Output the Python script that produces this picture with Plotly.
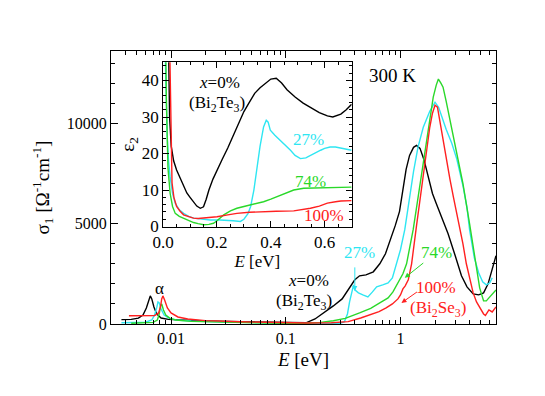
import numpy as np
import plotly.graph_objects as go

# ---- main panel: sigma_1 (Ohm^-1 cm^-1) vs photon energy E (eV) ----
e_bi2te3 = [0.0037, 0.0045, 0.0052, 0.0057, 0.0061, 0.0064, 0.0066, 0.0068, 0.0071, 0.0075,
            0.0082, 0.0095, 0.012, 0.02, 0.04, 0.08, 0.15, 0.18, 0.22, 0.26, 0.31, 0.35, 0.40,
            0.44, 0.50, 0.58, 0.66, 0.74, 0.81, 0.90, 0.98, 1.05, 1.12, 1.20, 1.30, 1.38, 1.48,
            1.60, 1.75, 1.90, 2.05, 2.3, 2.6, 3.0, 3.4, 3.8, 4.3, 4.8, 5.3, 5.8, 6.3, 6.8]
s_bi2te3 = [220, 230, 290, 450, 800, 1200, 1400, 1250, 850, 500,
            300, 230, 200, 150, 110, 70, 60, 250, 600, 900, 1250, 1700, 2200,
            2400, 2450, 2600, 3000, 3500, 4100, 4900, 5600, 6600, 7700, 8400, 8800, 8900, 8750,
            8200, 7300, 6500, 6000, 5300, 4500, 3400, 2400, 1850, 1500, 1450, 1550, 2000, 2800, 3400]

e_27 = [0.0037, 0.005, 0.006, 0.0068, 0.0072, 0.0075, 0.0077, 0.0079, 0.0082, 0.0087,
        0.0095, 0.011, 0.015, 0.03, 0.06, 0.1, 0.2, 0.3, 0.325, 0.345, 0.36, 0.375, 0.39,
        0.40, 0.43, 0.47, 0.52, 0.57, 0.62, 0.70, 0.78, 0.85, 0.92, 1.0, 1.09, 1.2, 1.3,
        1.42, 1.58, 1.8, 2.0, 2.15, 2.3, 2.5, 2.8, 3.1, 3.5, 3.8, 4.0, 4.4, 4.8, 5.2, 5.6,
        6.0, 6.3]
s_27 = [60, 70, 90, 200, 450, 800, 1100, 1050, 750, 450,
        300, 200, 150, 100, 60, 40, 30, 40, 120, 500, 1100, 1550, 1950,
        1700, 1550, 1450, 1350, 1600, 1850, 1950, 2050, 2300, 3000, 3700, 4700, 6300, 7600,
        8800, 9800, 10600, 11050, 10800, 10300, 9700, 9000, 8200, 6900, 5800, 4700, 3300, 2550, 2100, 1950,
        2050, 2300]

e_74 = [0.0045, 0.006, 0.007, 0.0076, 0.0079, 0.0081, 0.0083, 0.0086, 0.009, 0.0098,
        0.011, 0.015, 0.03, 0.06, 0.1, 0.15, 0.2, 0.26, 0.33, 0.44, 0.55, 0.66, 0.78,
        0.86, 0.92, 0.98, 1.05, 1.13, 1.21, 1.29, 1.38, 1.48, 1.58, 1.69, 1.8, 1.93, 2.05,
        2.14, 2.25, 2.35, 2.5, 2.69, 2.9, 3.1, 3.5, 4.0, 4.3, 4.6, 4.9, 5.3, 5.6, 5.9, 6.3, 6.8]
s_74 = [40, 50, 80, 200, 500, 900, 1000, 700, 450, 280,
        200, 130, 80, 50, 30, 40, 80, 160, 280, 550, 780, 1050, 1300,
        1600, 1900, 2200, 2500, 3000, 3800, 4700, 5800, 7000, 8100, 9200, 10200, 11300, 11900,
        12200, 12000, 11800, 11100, 10200, 9300, 8500, 7000, 5000, 3800, 2700, 1800, 1150, 1150, 1300, 1500, 1700]

e_bi2se3 = [0.0043, 0.006, 0.0072, 0.0078, 0.0081, 0.0083, 0.0085, 0.0088, 0.0093, 0.01,
            0.0115, 0.014, 0.02, 0.04, 0.08, 0.15, 0.25, 0.35, 0.45, 0.54, 0.65, 0.75, 0.85,
            0.95, 1.0, 1.05, 1.1, 1.17, 1.25, 1.38, 1.48, 1.58, 1.7, 1.8, 1.9, 2.0, 2.1, 2.2,
            2.35, 2.5, 2.7, 2.9, 3.1, 3.3, 3.5, 3.75, 4.0, 4.3, 4.6, 5.0, 5.3, 5.5, 5.9, 6.3, 6.8]
s_bi2se3 = [410, 400, 420, 550, 850, 1250, 1400, 1200, 800, 550,
            350, 250, 170, 110, 70, 50, 60, 120, 300, 460, 620, 800, 1000,
            1250, 1450, 1750, 1900, 2200, 3000, 4900, 6200, 7500, 8800, 9800, 10500, 10900, 10800, 10100,
            9100, 8200, 7200, 6300, 5500, 4700, 4000, 3000, 2300, 1550, 1100, 700, 500, 430, 700, 600, 850]

# ---- inset: epsilon_2 vs E (eV) ----
ei_bi2te3 = [0.018, 0.024, 0.03, 0.039, 0.05, 0.063, 0.075, 0.088, 0.1, 0.113, 0.125, 0.138,
             0.15, 0.16, 0.17, 0.185, 0.2, 0.22, 0.24, 0.26, 0.28, 0.30, 0.32, 0.34, 0.36,
             0.38, 0.40, 0.42, 0.44, 0.46, 0.49, 0.52, 0.55, 0.58, 0.61, 0.63, 0.66, 0.68, 0.70]
eps_bi2te3 = [60, 30, 22, 18, 15.5, 13.5, 11.5, 9.2, 8, 6.6, 5.6, 5.0,
              5.4, 7.5, 10, 13, 15.5, 18.5, 21.5, 25, 28, 31.5, 34, 36.5, 38,
              39.3, 40.4, 40.6, 39.3, 37.5, 35.5, 33.8, 32.5, 31.2, 30.3, 30.0, 30.8, 32.0, 33.5]

ei_27 = [0.005, 0.007, 0.015, 0.02, 0.026, 0.035, 0.045, 0.06, 0.076, 0.095, 0.113, 0.14,
         0.175, 0.21, 0.237, 0.26, 0.287, 0.30, 0.315, 0.325, 0.337, 0.349, 0.36, 0.373,
         0.383, 0.39, 0.398, 0.415, 0.436, 0.455, 0.473, 0.49, 0.51, 0.53, 0.547, 0.565,
         0.585, 0.60, 0.62, 0.64, 0.66, 0.68, 0.70]
eps_27 = [60, 50, 25, 18, 13.6, 9, 6.4, 4.6, 3.6, 2.8, 2.3, 2.0,
          1.8, 1.8, 1.8, 1.6, 1.4, 2.0, 3.5, 5.5, 10, 16.4, 22, 27.3,
          29.1, 28.6, 26.4, 25, 23.6, 22.2, 20.9, 19.5, 18.6, 18.8, 19.5, 20.3,
          20.9, 21.4, 21.8, 21.8, 21.5, 21.2, 20.9]

ei_74 = [0.008, 0.012, 0.018, 0.026, 0.035, 0.045, 0.06, 0.076, 0.095, 0.113, 0.13, 0.15,
         0.17, 0.187, 0.2, 0.212, 0.225, 0.25, 0.274, 0.30, 0.324, 0.35, 0.373, 0.40,
         0.436, 0.46, 0.485, 0.522, 0.56, 0.61, 0.65, 0.70]
eps_74 = [60, 35, 16, 9.1, 5.5, 3.6, 2.8, 2.3, 1.6, 1.1, 0.8, 0.5,
          0.6, 0.9, 1.6, 2.4, 3.2, 4.3, 5.0, 5.5, 5.9, 6.4, 6.8, 7.5,
          8.6, 9.4, 10.0, 10.5, 10.6, 10.6, 10.7, 10.8]

ei_bi2se3 = [0.022, 0.028, 0.033, 0.04, 0.05, 0.063, 0.076, 0.095, 0.113, 0.13, 0.15, 0.175,
             0.2, 0.24, 0.274, 0.32, 0.373, 0.42, 0.485, 0.52, 0.547, 0.58, 0.61, 0.64, 0.66, 0.70]
eps_bi2se3 = [60, 25, 12, 8, 5.5, 4.2, 3.2, 2.7, 2.3, 2.2, 2.3, 2.5,
              2.7, 3.2, 3.6, 3.9, 4.1, 4.2, 4.3, 4.6, 5.0, 5.6, 6.4, 6.8, 7.0, 7.1]

BLACK, CYAN, GREEN, RED = "black", "#2ee6f2", "#2ad82a", "#ff2020"
SERIF = "Liberation Serif"

fig = go.Figure()

main = [(e_bi2te3, s_bi2te3, BLACK), (e_27, s_27, CYAN),
        (e_74, s_74, GREEN), (e_bi2se3, s_bi2se3, RED)]
for E, s, c in main:
    fig.add_trace(go.Scatter(x=E, y=s, mode="lines", line=dict(color=c, width=1.4),
                             xaxis="x", yaxis="y", showlegend=False))

inset = [(ei_bi2te3, eps_bi2te3, BLACK), (ei_27, eps_27, CYAN),
         (ei_74, eps_74, GREEN), (ei_bi2se3, eps_bi2se3, RED)]
for E, eps, c in inset:
    fig.add_trace(go.Scatter(x=E, y=eps, mode="lines", line=dict(color=c, width=1.4),
                             xaxis="x2", yaxis="y2", showlegend=False))

minor_log = [m * 10.0**k for k in range(-3, 1) for m in range(2, 10)]

frame = dict(showline=True, linecolor="black", linewidth=1, mirror="ticks",
             ticks="inside", tickcolor="black", tickwidth=1, showgrid=False, zeroline=False)

fig.update_layout(
    width=545, height=396,
    margin=dict(l=103, r=57, t=43, b=80),
    paper_bgcolor="white", plot_bgcolor="white",
    font=dict(family=SERIF, size=16, color="black"),
    showlegend=False,
    xaxis=dict(type="log", range=[np.log10(0.003), np.log10(6.8)],
               tickvals=[0.01, 0.1, 1], ticktext=["0.01", "0.1", "1"], ticklen=7,
               minor=dict(tickvals=minor_log, ticks="inside", ticklen=4, tickcolor="black"),
               title=dict(text="<i>E</i> [eV]", font=dict(size=19), standoff=6), **frame),
    yaxis=dict(range=[0, 13600], tickvals=[0, 5000, 10000], ticktext=["0", "5000", "10000"],
               ticklen=7,
               minor=dict(dtick=1000, ticks="inside", ticklen=4, tickcolor="black"),
               title=dict(text="σ<sub>1</sub> [Ω<sup>-1</sup>cm<sup>-1</sup>]",
                          font=dict(size=19), standoff=12), **frame),
    xaxis2=dict(domain=[0.1354, 0.625], anchor="y2", range=[0, 0.7], dtick=0.2,
                tickformat=".1f", ticklen=6, tickfont=dict(size=17),
                minor=dict(dtick=0.05, ticks="inside", ticklen=3, tickcolor="black"),
                title=dict(text="<i>E</i> [eV]", font=dict(size=17), standoff=0), **frame),
    yaxis2=dict(domain=[0.357, 0.9587], anchor="x2", range=[0, 45], dtick=10,
                ticklen=6, tickfont=dict(size=17),
                minor=dict(dtick=2, ticks="inside", ticklen=3, tickcolor="black"),
                title=dict(text="ε<sub>2</sub>", font=dict(size=19), standoff=2), **frame),
)

L = np.log10
notes = [
    # main panel labels (x given as log10 for the log axis)
    dict(x=L(0.86), y=12400, text="300 K", size=19, color=BLACK),
    dict(x=L(0.158), y=2150, text="<i>x</i>=0%", size=17, color=BLACK),
    dict(x=L(0.143), y=1100, text="(Bi<sub>2</sub>Te<sub>3</sub>)", size=17, color=BLACK),
    dict(x=L(0.441), y=3550, text="27%", size=17, color=CYAN),
    dict(x=L(2.07), y=3550, text="74%", size=17, color=GREEN),
    dict(x=L(2.03), y=1800, text="100%", size=17, color=RED),
    dict(x=L(2.13), y=760, text="(Bi<sub>2</sub>Se<sub>3</sub>)", size=17, color=RED),
    dict(x=L(0.0079), y=1760, text="α", size=17, color=BLACK),
]
annotations = []
for n in notes:
    annotations.append(dict(x=n["x"], y=n["y"], xref="x", yref="y", text=n["text"],
                            showarrow=False, font=dict(size=n["size"], color=n["color"])))

inset_notes = [
    dict(x=0.2085, y=39.5, text="<i>x</i>=0%", color=BLACK),
    dict(x=0.199, y=33.5, text="(Bi<sub>2</sub>Te<sub>3</sub>)", color=BLACK),
    dict(x=0.54, y=23.9, text="27%", color=CYAN),
    dict(x=0.547, y=12.4, text="74%", color=GREEN),
    dict(x=0.599, y=3.0, text="100%", color=RED),
]
for n in inset_notes:
    annotations.append(dict(x=n["x"], y=n["y"], xref="x2", yref="y2", text=n["text"],
                            showarrow=False, font=dict(size=17, color=n["color"])))

# pointer arrows in the main panel
arrows = [
    dict(x=L(0.40), y=1650, ax=0, ay=-25, color=CYAN),
    dict(x=L(1.09), y=2300, ax=20, ay=-16, color=GREEN),
    dict(x=L(1.02), y=1050, ax=17, ay=-12, color=RED),
]
for a in arrows:
    annotations.append(dict(x=a["x"], y=a["y"], xref="x", yref="y", text="",
                            showarrow=True, ax=a["ax"], ay=a["ay"], arrowhead=2,
                            arrowsize=1, arrowwidth=1, arrowcolor=a["color"]))

fig.update_layout(annotations=annotations)

fig.write_html("out.html")
